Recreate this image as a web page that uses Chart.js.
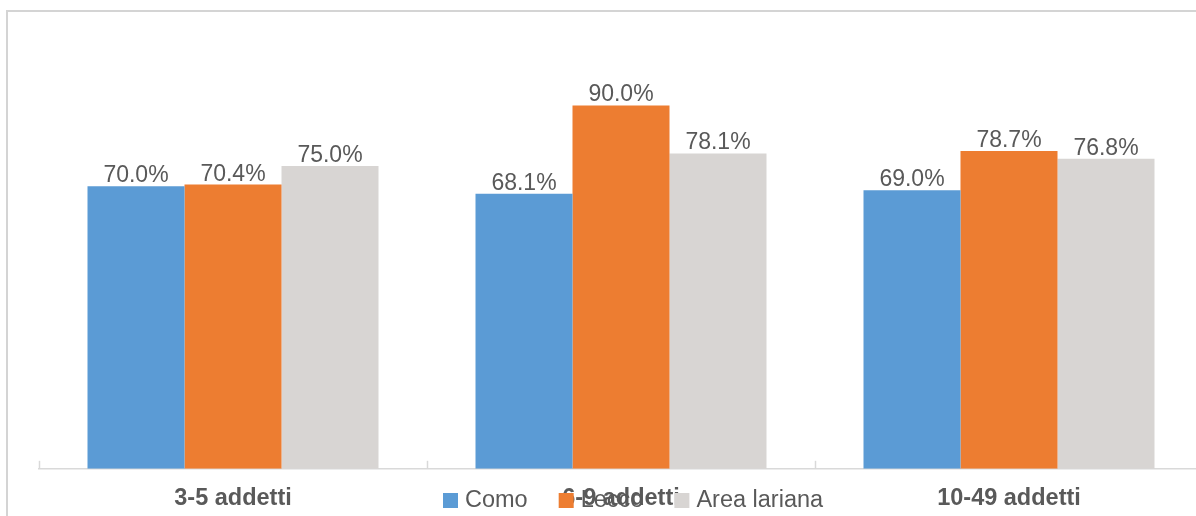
<!DOCTYPE html>
<html>
<head>
<meta charset="utf-8">
<title>Addetti</title>
<script src="https://cdn.jsdelivr.net/npm/chart.js@4.4.1/dist/chart.umd.min.js"></script>
<style>
    html, body { margin: 0; padding: 0; background: #fff; overflow: hidden; }
    #wrap { position: relative; width: 1196px; height: 516px; overflow: hidden; }
    #frame {
        position: absolute; left: 6px; top: 10px; right: -10px; bottom: -10px;
        border-left: 2px solid #d4d4d4; border-top: 2px solid #d4d4d4;
        pointer-events: none;
    }
    canvas { position: absolute; left: 0; top: 0; }
</style>
</head>
<body>
<div id="wrap">
    <canvas id="chart" width="1240" height="535" style="width:1240px;height:535px"></canvas>
    <div id="frame"></div>
</div>
<script>
const categories = ['3-5 addetti', '6-9 addetti', '10-49 addetti'];
const seriesNames = ['Como', 'Lecco', 'Area lariana'];
const como = [70.0, 68.1, 69.0];
const lecco = [70.4, 90.0, 78.7];
const areaLariana = [75.0, 78.1, 76.8];
const seriesColors = ['#5b9bd5', '#ed7d31', '#d8d5d3'];

const FONT = '"Liberation Sans", Arial, sans-serif';
const TEXT_COLOR = '#595959';

// value labels above each bar
const valueLabels = {
    id: 'valueLabels',
    afterDatasetsDraw(chart) {
        const ctx = chart.ctx;
        ctx.save();
        ctx.font = '23px ' + FONT;
        ctx.fillStyle = TEXT_COLOR;
        ctx.textAlign = 'center';
        ctx.textBaseline = 'alphabetic';
        chart.data.datasets.forEach((ds, i) => {
            chart.getDatasetMeta(i).data.forEach((bar, j) => {
                ctx.fillText(ds.data[j].toFixed(1) + '%', bar.x, bar.y - 4);
            });
        });
        ctx.restore();
    }
};

// small tick marks pointing up from the axis, at category boundaries
const boundaryTicks = {
    id: 'boundaryTicks',
    afterDraw(chart) {
        const x = chart.scales.x;
        const ctx = chart.ctx;
        const half = (x.getPixelForValue(1) - x.getPixelForValue(0)) / 2;
        const bottom = chart.chartArea.bottom;
        ctx.save();
        ctx.strokeStyle = '#d9d9d9';
        ctx.lineWidth = 1.5;
        for (let i = 0; i <= categories.length; i++) {
            const px = Math.round(x.getPixelForValue(i) - half) + 0.5;
            ctx.beginPath();
            ctx.moveTo(px, bottom - 8);
            ctx.lineTo(px, bottom);
            ctx.stroke();
        }
        ctx.restore();
    }
};

// legend drawn on top of the axis labels row
const bottomLegend = {
    id: 'bottomLegend',
    afterDraw(chart) {
        const ctx = chart.ctx;
        ctx.save();
        ctx.font = '23.5px ' + FONT;
        ctx.textBaseline = 'middle';
        ctx.textAlign = 'left';
        let cx = 443;
        const cy = 500.5;
        const box = 15;
        chart.data.datasets.forEach(ds => {
            ctx.fillStyle = ds.backgroundColor;
            ctx.fillRect(cx, cy - box / 2, box, box);
            ctx.fillStyle = TEXT_COLOR;
            ctx.fillText(ds.label, cx + box + 7, cy);
            cx += box + 7 + ctx.measureText(ds.label).width + 31;
        });
        ctx.restore();
    }
};

new Chart(document.getElementById('chart'), {
    type: 'bar',
    data: {
        labels: categories,
        datasets: [
            { label: seriesNames[0], data: como, backgroundColor: seriesColors[0] },
            { label: seriesNames[1], data: lecco, backgroundColor: seriesColors[1] },
            { label: seriesNames[2], data: areaLariana, backgroundColor: seriesColors[2] }
        ]
    },
    options: {
        responsive: false,
        animation: false,
        devicePixelRatio: 1,
        layout: { padding: { left: 39, right: 37, top: 65, bottom: 6 } },
        datasets: {
            bar: { categoryPercentage: 0.75, barPercentage: 1.0 }
        },
        plugins: {
            legend: { display: false },
            tooltip: { enabled: false }
        },
        scales: {
            x: {
                grid: { display: false, drawTicks: false },
                border: { display: true, color: '#d9d9d9', width: 1.5 },
                ticks: {
                    color: TEXT_COLOR,
                    padding: 16,
                    font: { family: FONT, size: 23.5, weight: 'bold' }
                }
            },
            y: {
                display: false,
                min: 0,
                max: 100
            }
        }
    },
    plugins: [valueLabels, boundaryTicks, bottomLegend]
});
</script>
</body>
</html>
